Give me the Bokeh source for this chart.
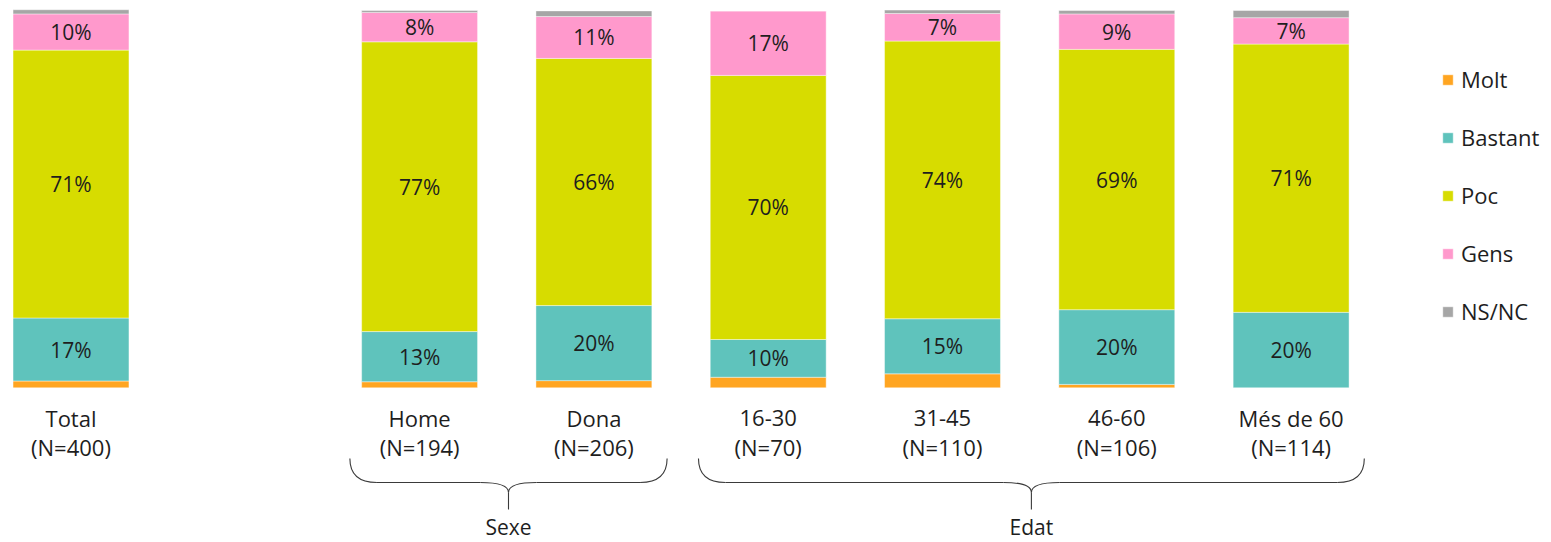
from bokeh.plotting import figure
from bokeh.models import ColumnDataSource, Legend, LegendItem, Range1d
from bokeh.core.properties import value
from bokeh.embed import file_html
from bokeh.resources import INLINE

# ---------------- data ----------------
categories = ["Total", "Home", "Dona", "16-30", "31-45", "46-60", "Més de 60"]
sample_n = ["(N=400)", "(N=194)", "(N=206)", "(N=70)", "(N=110)", "(N=106)", "(N=114)"]
series = ["Molt", "Bastant", "Poc", "Gens", "NS/NC"]
molt = [1.8, 1.6, 1.9, 2.8, 3.7, 0.9, 0.0]
bastant = [16.7, 13.3, 19.9, 10.0, 14.6, 19.8, 20.0]
poc = [71.0, 76.8, 65.5, 70.0, 73.6, 69.0, 71.1]
gens = [9.6, 7.8, 11.1, 17.1, 7.3, 9.4, 7.0]
nsnc = [1.1, 0.5, 1.5, 0.0, 0.9, 0.9, 1.9]
labelled_series = ["Bastant", "Poc", "Gens"]
groups = [("Sexe", ["Home", "Dona"]), ("Edat", ["16-30", "31-45", "46-60", "Més de 60"])]

colors = ["#FFA521", "#5FC3BC", "#D7DC00", "#FF99CC", "#A6A6A6"]
FONT_NAME = "Open Sans"
FONT = value(FONT_NAME)
TXT = "#1e1e1e"

# ---------------- layout ----------------
W, H = 1550, 541
slot_px = 174.3
px_per_unit = 3.773          # pixels per percentage point
top_pad_px = 10
y_end = 100 + top_pad_px / px_per_unit
y_start = y_end - H / px_per_unit
x_start = -70.5 / slot_px
x_end = x_start + W / slot_px


def y_at(px_from_top):
    return y_end - px_from_top / px_per_unit


xs = [i + (1 if i > 0 else 0) for i in range(len(categories))]
pos = dict(zip(categories, xs))

data = {"x": xs, "cat": categories}
vals = dict(zip(series, [molt, bastant, poc, gens, nsnc]))
for s in series:
    data[s] = vals[s]
src = ColumnDataSource(data)

p = figure(width=W, height=H, output_backend="svg", toolbar_location=None,
           x_range=Range1d(x_start, x_end), y_range=Range1d(y_start, y_end),
           min_border=0)
p.axis.visible = False
p.grid.visible = False
p.outline_line_color = None
p.background_fill_color = "white"
p.border_fill_color = "white"

renderers = p.vbar_stack(series, x="x", width=0.665, color=colors, source=src,
                         line_color="white", line_width=0.6, line_alpha=0.7)

# segment labels
lx, ly, lt = [], [], []
for i, c in enumerate(categories):
    base = 0.0
    for s in series:
        v = vals[s][i]
        if s in labelled_series:
            lx.append(xs[i])
            ly.append(base + v / 2)
            lt.append(f"{int(v + 0.5)}%")
        base += v
p.text(x=lx, y=ly, text=lt, text_font=FONT, text_font_size="21px",
       text_color=TXT, text_align="center", text_baseline="middle")

# category labels
p.text(x=xs, y=[y_at(417)] * len(xs), text=categories, text_font=FONT,
       text_font_size="22px", text_color=TXT, text_align="center", text_baseline="middle")
p.text(x=xs, y=[y_at(446)] * len(xs), text=sample_n, text_font=FONT,
       text_font_size="22px", text_color=TXT, text_align="center", text_baseline="middle")

# braces
y_top = y_at(458)
y_h = y_at(482)
y_cusp = y_at(492)
y_tip = y_at(509)
c1 = 27 / slot_px
c2 = 28 / slot_px
bl = "#3a3a3a"
gx, gy, gt = [], [], []
for name, members in groups:
    xl = pos[members[0]] - 0.40
    xr = pos[members[-1]] + 0.42
    xm = (xl + xr) / 2
    # outer corners
    p.quadratic(x0=[xl, xr], y0=[y_top, y_top], x1=[xl + c1, xr - c1], y1=[y_h, y_h],
                cx=[xl, xr], cy=[y_h, y_h], line_color=bl, line_width=1.1)
    # horizontal runs
    p.segment(x0=[xl + c1, xm + c2], y0=[y_h, y_h], x1=[xm - c2, xr - c1], y1=[y_h, y_h],
              line_color=bl, line_width=1.1)
    # middle cusp
    p.quadratic(x0=[xm - c2, xm + c2], y0=[y_h, y_h], x1=[xm, xm], y1=[y_cusp, y_cusp],
                cx=[xm, xm], cy=[y_h, y_h], line_color=bl, line_width=1.1)
    p.segment(x0=[xm], y0=[y_cusp], x1=[xm], y1=[y_tip], line_color=bl, line_width=1.1)
    gx.append(xm)
    gy.append(y_at(526))
    gt.append(name)
p.text(x=gx, y=gy, text=gt, text_font=FONT, text_font_size="21px",
       text_color=TXT, text_align="center", text_baseline="middle")

legend = Legend(items=[LegendItem(label=s, renderers=[r]) for s, r in zip(series, renderers)],
                location=(1441, 215), orientation="vertical",
                glyph_width=13, glyph_height=13, label_height=24, spacing=28,
                label_standoff=7, padding=0, margin=0,
                label_text_font=FONT_NAME, label_text_font_size="22px", label_text_color=TXT,
                border_line_alpha=0, background_fill_alpha=0)
p.add_layout(legend)

open("out.html", "w").write(file_html(p, INLINE))
